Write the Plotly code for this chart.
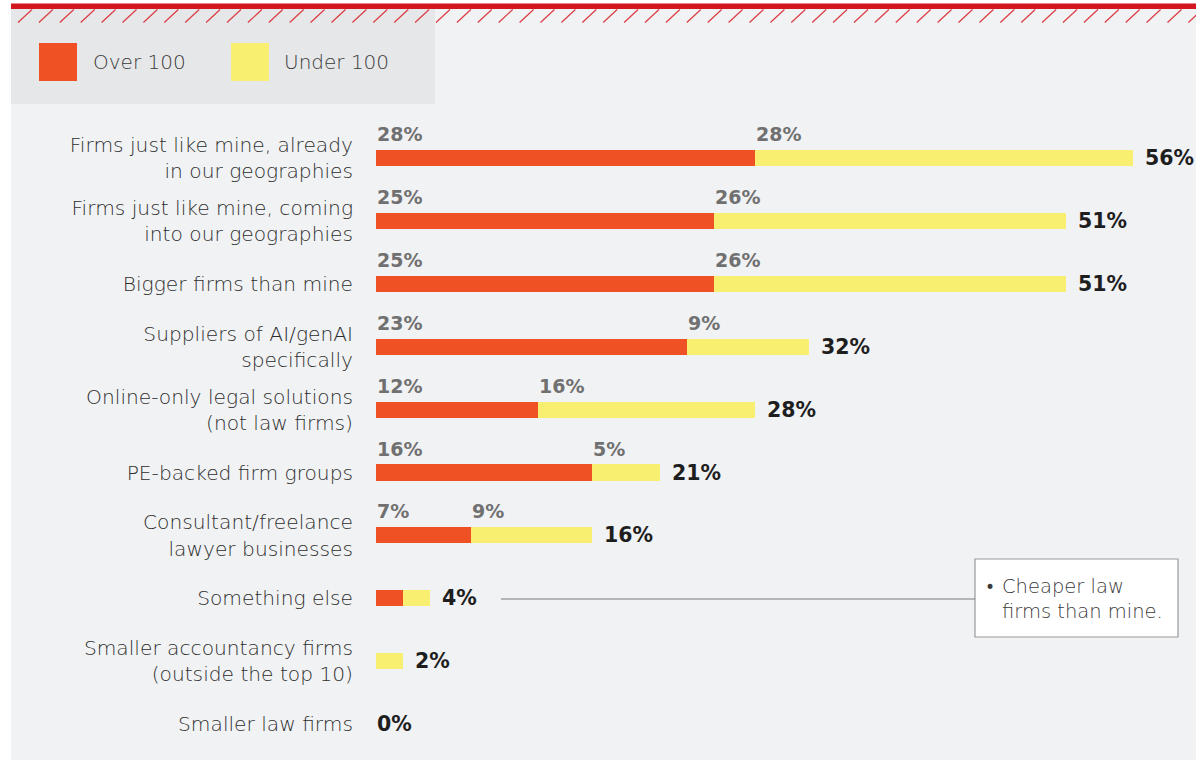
import plotly.graph_objects as go

# Survey responses: who firms see as competitors, split by firm size
categories = [
    "Firms just like mine, already<br>in our geographies",
    "Firms just like mine, coming<br>into our geographies",
    "Bigger firms than mine",
    "Suppliers of AI/genAI<br>specifically",
    "Online-only legal solutions<br>(not law firms)",
    "PE-backed firm groups",
    "Consultant/freelance<br>lawyer businesses",
    "Something else",
    "Smaller accountancy firms<br>(outside the top 10)",
    "Smaller law firms",
]
over_100 = [28, 25, 25, 23, 12, 16, 7, 2, 0, 0]
under_100 = [28, 26, 26, 9, 16, 5, 9, 2, 2, 0]
totals = [56, 51, 51, 32, 28, 21, 16, 4, 2, 0]
series_names = ["Over 100", "Under 100"]
other_note = ["Cheaper law", "firms than mine."]

ORANGE = "#EF5124"
YELLOW = "#F8EF70"
RED = "#D2171E"
PANEL = "#F1F2F4"
LEGEND_BG = "#E6E7E9"
LABEL_FONT = "DejaVu Sans"
NUM_FONT = "DejaVu Sans"
TEXT_DARK = "#2E2E2E"

W, H = 1196, 761
ML, MR, MT, MB = 376, 20, 126, 5
PW, PH = W - ML - MR, H - MT - MB


def fx(px):
    return (px - ML) / PW


def fy(py):
    return (H - MB - py) / PH


idx = list(range(len(categories)))

fig = go.Figure()
fig.add_trace(go.Bar(
    y=idx, x=over_100, orientation="h", name=series_names[0],
    marker=dict(color=ORANGE, line=dict(width=0)), width=0.255,
    hoverinfo="x+name",
))
fig.add_trace(go.Bar(
    y=idx, x=under_100, orientation="h", name=series_names[1],
    marker=dict(color=YELLOW, line=dict(width=0)), width=0.255,
    hoverinfo="x+name",
))

annotations = []
# segment values above the bars, left aligned at each segment start
for i in idx:
    if totals[i] >= 8:
        for base, val in ((0, over_100[i]), (over_100[i], under_100[i])):
            annotations.append(dict(
                x=base, y=i, xref="x", yref="y", text=f"{val}%",
                showarrow=False, xanchor="left", yanchor="middle", yshift=24, xshift=-1,
                font=dict(family=NUM_FONT, size=19, color="#707070", weight="bold"),
            ))
    # totals at the bar end
    annotations.append(dict(
        x=totals[i], y=i, xref="x", yref="y", text=f"{totals[i]}%",
        showarrow=False, xanchor="left", yanchor="middle",
        xshift=10 if totals[i] > 0 else -1,
        font=dict(family=NUM_FONT, size=20.5, color="#1E1E1E", weight="bold"),
    ))

# legend
for name, color, sx, tx in ((series_names[0], ORANGE, 39, 91), (series_names[1], YELLOW, 231, 282)):
    annotations.append(dict(
        x=fx(tx), y=fy(62), xref="paper", yref="paper", text=name,
        showarrow=False, xanchor="left", yanchor="middle",
        font=dict(family=LABEL_FONT, size=20, color="#3A3A3A", weight=200),
    ))

# note box for "Something else"
annotations.append(dict(
    x=fx(983), y=fy(587), xref="paper", yref="paper", text="•",
    showarrow=False, xanchor="left", yanchor="middle",
    font=dict(family=LABEL_FONT, size=17, color="#3A3A3A"),
))
annotations.append(dict(
    x=fx(1000), y=fy(599), xref="paper", yref="paper",
    text="<br>".join(other_note), align="left",
    showarrow=False, xanchor="left", yanchor="middle",
    font=dict(family=LABEL_FONT, size=19.5, color="#3A3A3A", weight=200),
))

shapes = [
    # white page strips around the panel
    dict(type="rect", xref="paper", yref="paper", x0=fx(0), x1=fx(11), y0=fy(761), y1=fy(0),
         fillcolor="white", line_width=0, layer="below"),
    dict(type="rect", xref="paper", yref="paper", x0=fx(0), x1=fx(W), y0=fy(3.5), y1=fy(0),
         fillcolor="white", line_width=0, layer="below"),
    dict(type="rect", xref="paper", yref="paper", x0=fx(0), x1=fx(W), y0=fy(761), y1=fy(760),
         fillcolor="white", line_width=0, layer="below"),
    # legend panel
    dict(type="rect", xref="paper", yref="paper", x0=fx(11), x1=fx(435), y0=fy(104), y1=fy(9),
         fillcolor=LEGEND_BG, line_width=0, layer="below"),
    dict(type="rect", xref="paper", yref="paper", x0=fx(39), x1=fx(77), y0=fy(81), y1=fy(43),
         fillcolor=ORANGE, line_width=0, layer="below"),
    dict(type="rect", xref="paper", yref="paper", x0=fx(231), x1=fx(269), y0=fy(81), y1=fy(43),
         fillcolor=YELLOW, line_width=0, layer="below"),
    # red top rule
    dict(type="rect", xref="paper", yref="paper", x0=fx(11), x1=fx(W), y0=fy(9), y1=fy(3.5),
         fillcolor=RED, line_width=0, layer="below"),
    # note box and leader line
    dict(type="line", xref="paper", yref="paper", x0=fx(501), x1=fx(975), y0=fy(599), y1=fy(599),
         line=dict(color="#7A7A7A", width=1)),
    dict(type="rect", xref="paper", yref="paper", x0=fx(975), x1=fx(1178), y0=fy(637), y1=fy(559),
         fillcolor="white", line=dict(color="#9A9A9A", width=1.2), layer="below"),
]

# hatched strip under the red rule
hx = 18.0
while hx < W:
    shapes.append(dict(type="line", xref="paper", yref="paper",
                       x0=fx(hx), x1=fx(hx + 14), y0=fy(22.5), y1=fy(9.5),
                       line=dict(color="#DB3A41", width=1.2)))
    hx += 20.9

fig.update_layout(
    width=W, height=H,
    margin=dict(l=ML, r=MR, t=MT, b=MB, autoexpand=False),
    paper_bgcolor=PANEL, plot_bgcolor="rgba(0,0,0,0)",
    barmode="stack", bargap=0, showlegend=False,
    annotations=annotations, shapes=shapes,
    xaxis=dict(range=[0, PW / 13.52], visible=False, fixedrange=True),
    yaxis=dict(
        range=[9.507, -0.509], tickmode="array", tickvals=idx, ticktext=categories,
        showgrid=False, zeroline=False, showline=False, ticks="",
        ticklabelstandoff=22, automargin=False, fixedrange=True,
        tickfont=dict(family=LABEL_FONT, size=20.2, color=TEXT_DARK, weight=200),
    ),
)

fig.write_html("out.html")
